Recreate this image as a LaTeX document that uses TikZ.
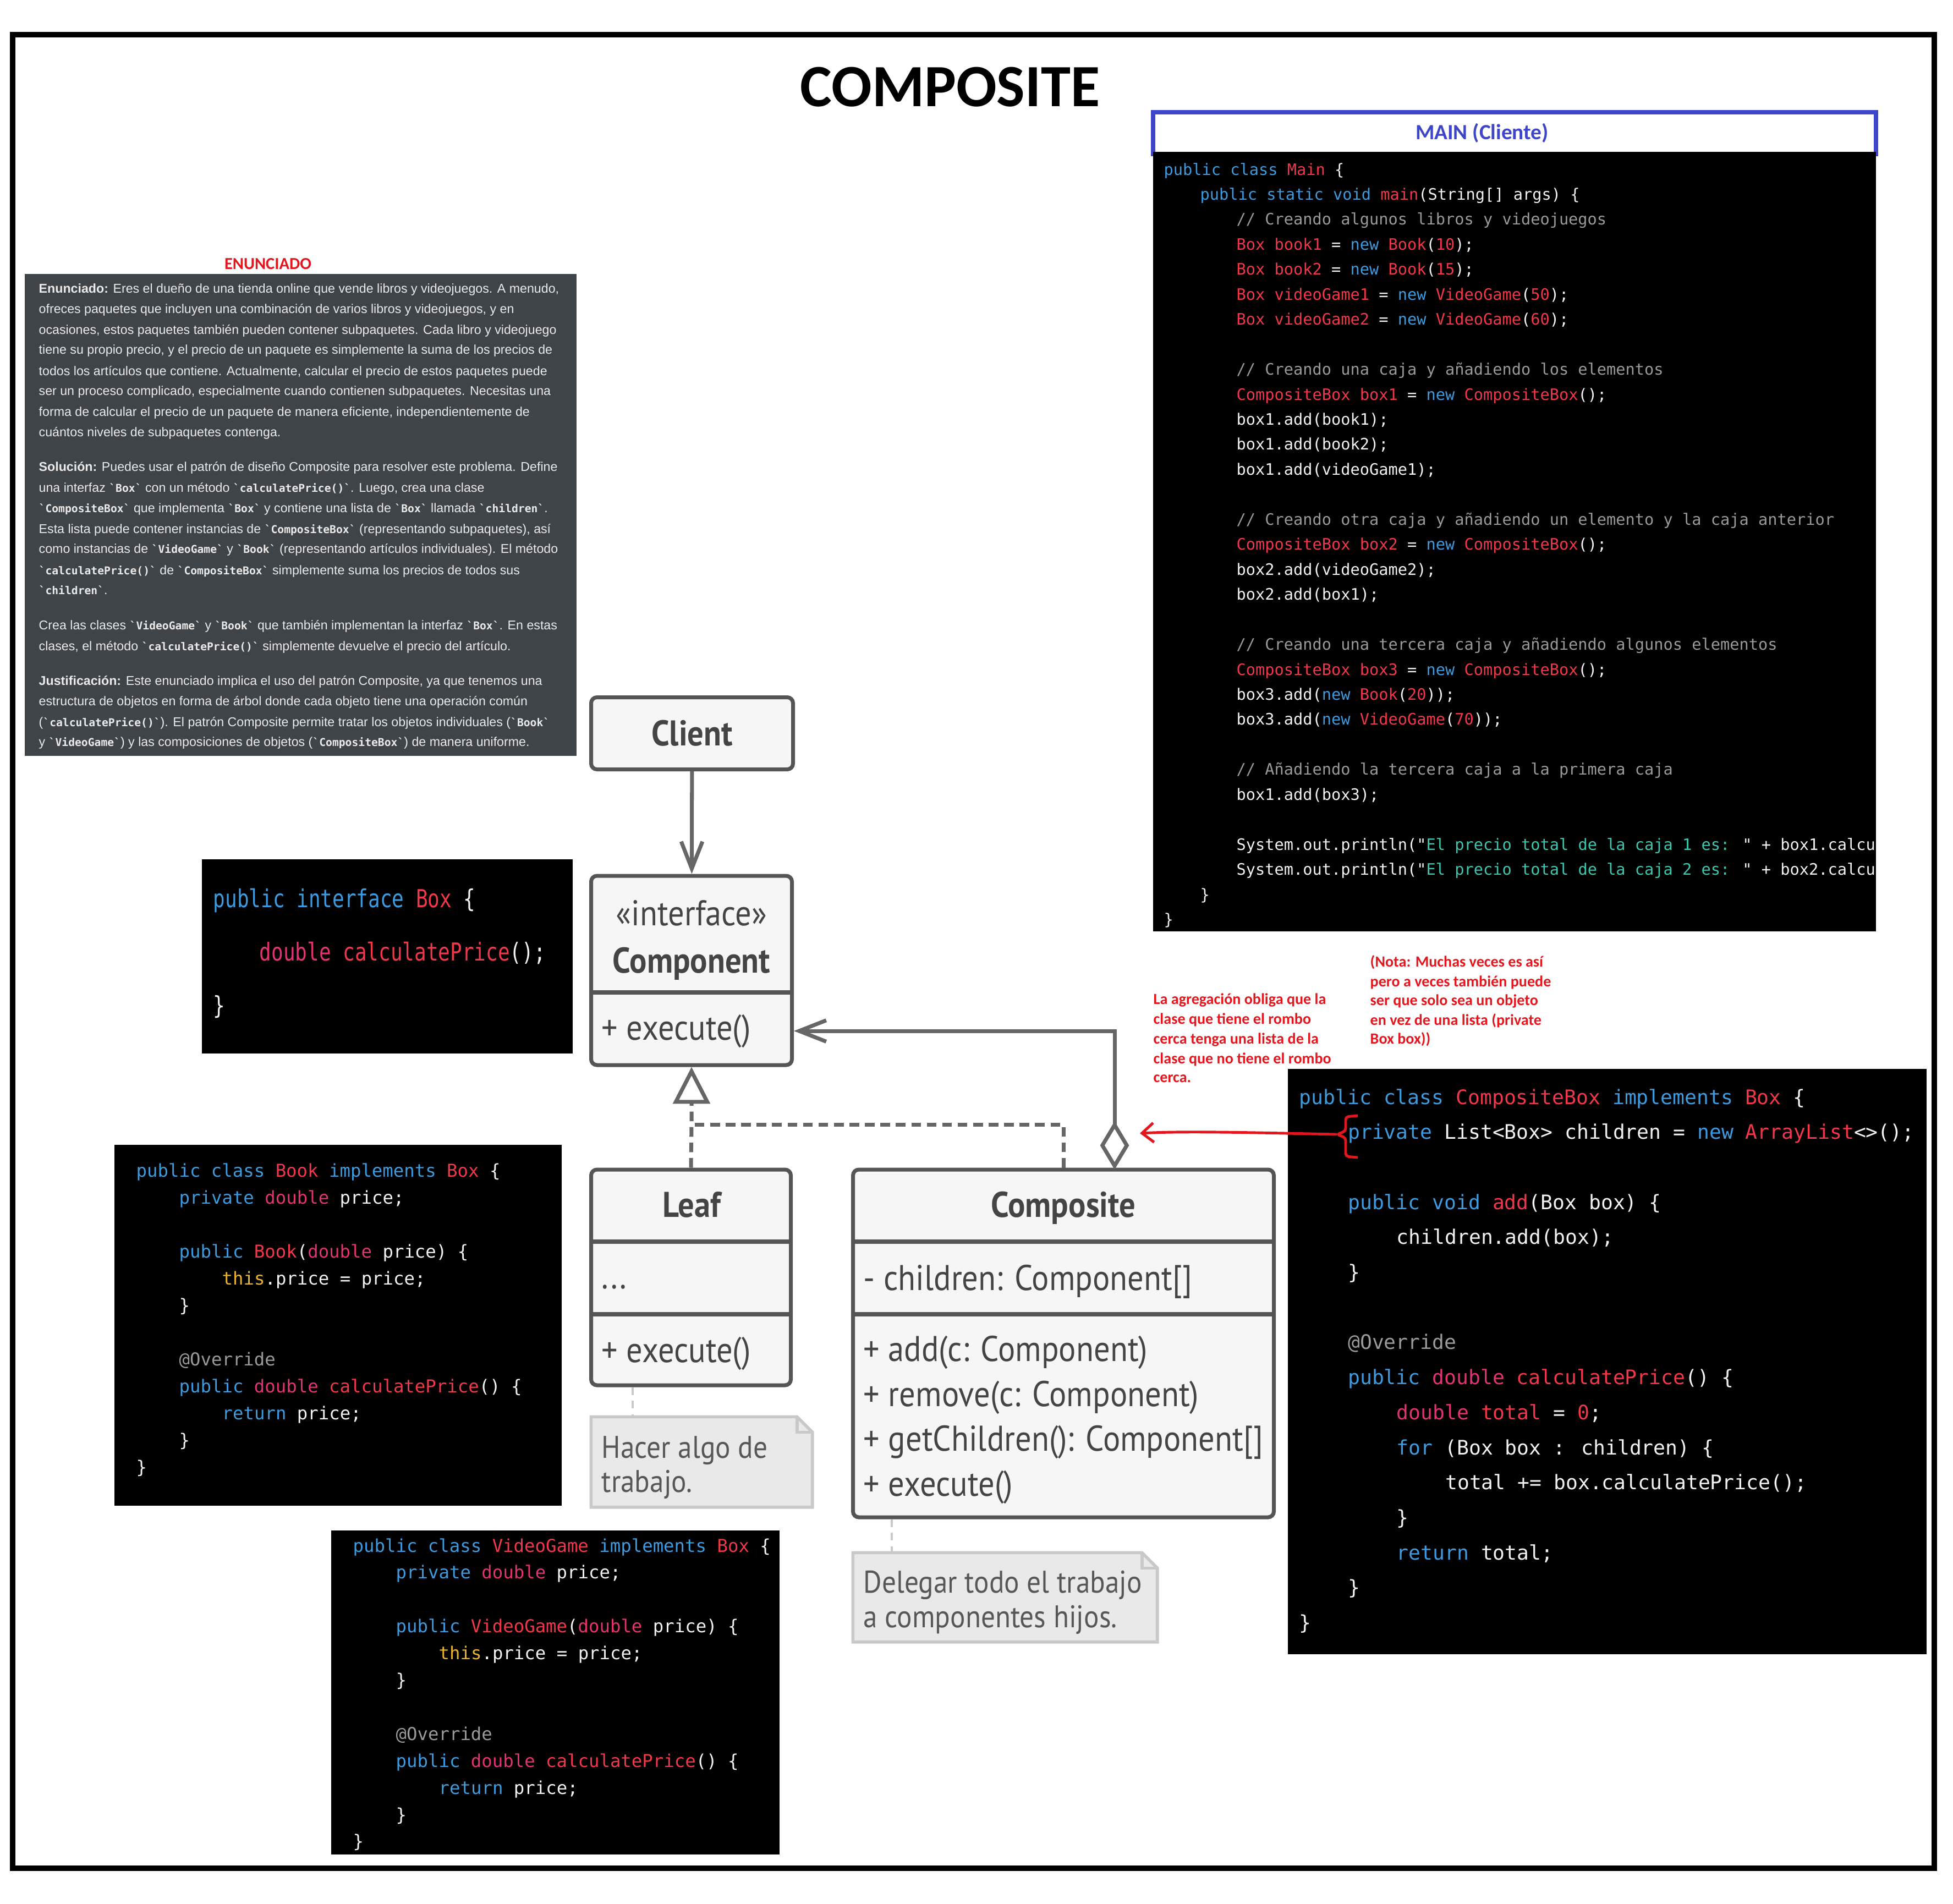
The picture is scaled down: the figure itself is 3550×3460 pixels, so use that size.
\documentclass[tikz,border=0pt]{standalone}
\usepackage{fontspec}
\usetikzlibrary{arrows.meta,positioning,calc}

\newfontfamily\titlefont{Carlito}
\newfontfamily\textofont{Liberation Sans}
\newfontfamily\codefont{DejaVu Sans Mono}
\newfontfamily\condfont[FakeStretch=0.8]{DejaVu Sans Mono}
\newfontfamily\umlfont[FakeStretch=0.9]{PT Sans}

\definecolor{jblue}{HTML}{3D9BE0}
\definecolor{jred}{HTML}{F0384A}
\definecolor{jpink}{HTML}{E23372}
\definecolor{jgrey}{HTML}{9A9A9A}
\definecolor{jteal}{HTML}{3CC8B0}
\definecolor{jyellow}{HTML}{E8B430}
\definecolor{jwhite}{HTML}{F2F2F2}
\definecolor{enunbg}{HTML}{3F4448}
\definecolor{umlline}{HTML}{555555}
\definecolor{umlfill}{HTML}{F6F6F6}
\definecolor{umltext}{HTML}{444444}
\definecolor{notefill}{HTML}{E9E9E9}
\definecolor{noteedge}{HTML}{C9C9C9}
\definecolor{rojo}{HTML}{E3161E}
\definecolor{azul}{HTML}{3F45C8}

\newcommand{\jkw}[1]{\textcolor{jblue}{#1}}
\newcommand{\jty}[1]{\textcolor{jred}{#1}}
\newcommand{\jdb}[1]{\textcolor{jpink}{#1}}
\newcommand{\jcm}[1]{\textcolor{jgrey}{#1}}
\newcommand{\jst}[1]{\textcolor{jteal}{#1}}
\newcommand{\jth}[1]{\textcolor{jyellow}{#1}}
\newcommand{\icod}[1]{{\codefont\bfseries\fontsize{5.6}{6}\selectfont\textasciigrave#1\textasciigrave}}

\begin{document}
\begin{tikzpicture}[x=0.1mm, y=-0.1mm,
    codebg/.style={fill=black, draw=none, inner sep=0pt, outer sep=0pt, anchor=north west},
    mainln/.style={anchor=base west, inner sep=0pt, text=jwhite, font=\codefont\fontsize{8.15}{9}\selectfont},
    bookln/.style={mainln, font=\codefont\fontsize{9.2}{10}\selectfont},
    compln/.style={mainln, font=\codefont\fontsize{10.35}{11}\selectfont},
    ifaceln/.style={mainln, font=\condfont\fontsize{12.8}{13}\selectfont},
    enunln/.style={anchor=base west, inner sep=0pt, text=white!92!black, font=\textofont\fontsize{6.6}{7}\selectfont},
    notarojo/.style={anchor=base west, inner sep=0pt, text=rojo, font=\titlefont\bfseries\fontsize{8}{9}\selectfont},
    umlbox/.style={draw=umlline, fill=umlfill, line width=2pt, rounded corners=3pt, inner sep=0pt},
    umlsep/.style={draw=umlline, line width=2.4pt},
    umltxt/.style={inner sep=0pt, text=umltext, font=\umlfont\fontsize{18.5}{20}\selectfont},
    umltit/.style={inner sep=0pt, text=umltext, font=\umlfont\bfseries\fontsize{18.5}{20}\selectfont},
    notatxt/.style={anchor=base west, inner sep=0pt, text=umltext!90!white, font=\umlfont\fontsize{16.2}{18}\selectfont},
    notabox/.style={inner sep=0pt},
    notaline/.style={draw=noteedge, fill=notefill, line width=1.6pt},
    conector/.style={draw=umlline!90!white, line width=2pt},
    realiz/.style={conector, dash pattern=on 5pt off 3pt},
    ligadura/.style={draw=noteedge, line width=1.4pt, dash pattern=on 4pt off 3pt}]

    \useasboundingbox (0,0) rectangle (3550,3460);

    % 1. Marco y titulo
    \draw[line width=2.6pt] (23,63) rectangle (3516,3396);
    \node[font=\titlefont\bfseries\fontsize{31}{33}\selectfont] (titulo) at (1727,158) {COMPOSITE};

    % 2. Enunciado
    \node[text=rojo, font=\titlefont\bfseries\fontsize{8.7}{9}\selectfont] (enunT) at (487,480) {ENUNCIADO};
    \node[codebg, fill=enunbg, minimum width=100.3mm, minimum height=87.6mm] (enunbg) at (45,498) {};
    \foreach \yy/\linea [count=\i] in {
        525/{\textbf{Enunciado:} Eres el dueño de una tienda online que vende libros y videojuegos. A menudo,},
        562/{ofreces paquetes que incluyen una combinación de varios libros y videojuegos, y en},
        600/{ocasiones, estos paquetes también pueden contener subpaquetes. Cada libro y videojuego},
        636/{tiene su propio precio, y el precio de un paquete es simplemente la suma de los precios de},
        675/{todos los artículos que contiene. Actualmente, calcular el precio de estos paquetes puede},
        711/{ser un proceso complicado, especialmente cuando contienen subpaquetes. Necesitas una},
        749/{forma de calcular el precio de un paquete de manera eficiente, independientemente de},
        786/{cuántos niveles de subpaquetes contenga.},
        849/{\textbf{Solución:} Puedes usar el patrón de diseño Composite para resolver este problema. Define},
        887/{una interfaz \icod{Box} con un método \icod{calculatePrice()}. Luego, crea una clase},
        924/{\icod{CompositeBox} que implementa \icod{Box} y contiene una lista de \icod{Box} llamada \icod{children}.},
        962/{Esta lista puede contener instancias de \icod{CompositeBox} (representando subpaquetes), así},
        998/{como instancias de \icod{VideoGame} y \icod{Book} (representando artículos individuales). El método},
        1037/{\icod{calculatePrice()} de \icod{CompositeBox} simplemente suma los precios de todos sus},
        1073/{\icod{children}.},
        1137/{Crea las clases \icod{VideoGame} y \icod{Book} que también implementan la interfaz \icod{Box}. En estas},
        1175/{clases, el método \icod{calculatePrice()} simplemente devuelve el precio del artículo.},
        1238/{\textbf{Justificación:} Este enunciado implica el uso del patrón Composite, ya que tenemos una},
        1275/{estructura de objetos en forma de árbol donde cada objeto tiene una operación común},
        1313/{(\icod{calculatePrice()}). El patrón Composite permite tratar los objetos individuales (\icod{Book}},
        1349/{y \icod{VideoGame}) y las composiciones de objetos (\icod{CompositeBox}) de manera uniforme.}}
        \node[enunln] (enun\i) at (70,{\yy+7}) {\linea};

    % 3. Main (cliente)
    \node[codebg, fill=white, draw=azul, line width=2.3pt, minimum width=131.4mm, minimum height=7.6mm] (mainT) at (2096,204) {};
    \node[text=azul, font=\titlefont\bfseries\fontsize{11.2}{12}\selectfont] (mainTxt) at (2694,242) {MAIN (Cliente)};
    \node[codebg, minimum width=131.4mm, minimum height=141.7mm] (mainbg) at (2096,276) {};
    \begin{scope}
        \clip (mainbg.north west) rectangle (mainbg.south east);
        \foreach \ind/\linea [count=\i from 0] in {
            0/{\jkw{public class} \jty{Main} \{},
            1/{\jkw{public static void} \jty{main}(String[] args) \{},
            2/{\jcm{// Creando algunos libros y videojuegos}},
            2/{\jty{Box book1} = \jkw{new} \jty{Book}(\jty{10});},
            2/{\jty{Box book2} = \jkw{new} \jty{Book}(\jty{15});},
            2/{\jty{Box videoGame1} = \jkw{new} \jty{VideoGame}(\jty{50});},
            2/{\jty{Box videoGame2} = \jkw{new} \jty{VideoGame}(\jty{60});},
            0/{},
            2/{\jcm{// Creando una caja y añadiendo los elementos}},
            2/{\jty{CompositeBox box1} = \jkw{new} \jty{CompositeBox}();},
            2/{box1.add(book1);},
            2/{box1.add(book2);},
            2/{box1.add(videoGame1);},
            0/{},
            2/{\jcm{// Creando otra caja y añadiendo un elemento y la caja anterior}},
            2/{\jty{CompositeBox box2} = \jkw{new} \jty{CompositeBox}();},
            2/{box2.add(videoGame2);},
            2/{box2.add(box1);},
            0/{},
            2/{\jcm{// Creando una tercera caja y añadiendo algunos elementos}},
            2/{\jty{CompositeBox box3} = \jkw{new} \jty{CompositeBox}();},
            2/{box3.add(\jkw{new} \jty{Book}(\jty{20}));},
            2/{box3.add(\jkw{new} \jty{VideoGame}(\jty{70}));},
            0/{},
            2/{\jcm{// Añadiendo la tercera caja a la primera caja}},
            2/{box1.add(box3);},
            0/{},
            2/{System.out.println("\jst{El precio total de la caja 1 es: }" + box1.calculatePrice());},
            2/{System.out.println("\jst{El precio total de la caja 2 es: }" + box2.calculatePrice());},
            1/{\}},
            0/{\}}}
            \node[mainln] (main\i) at ({2115+\ind*66},{318+\i*45.45}) {\linea};
    \end{scope}

    % 4. Interfaz Box
    \node[codebg, minimum width=67.4mm, minimum height=35.3mm] (ifacebg) at (367,1562) {};
    \node[ifaceln] (iface1) at (387,1649) {\jkw{public interface} \jty{Box} \{};
    \node[ifaceln] (iface2) at (471,1746) {\jdb{double} \jty{calculatePrice}();};
    \node[ifaceln] (iface3) at (387,1843) {\}};

    % 5. Clases Book y VideoGame
    \node[codebg, minimum width=81.3mm, minimum height=65.6mm] (bookbg) at (208,2081) {};
    \foreach \ind/\linea [count=\i from 0] in {
        0/{\jkw{public class} \jty{Book} \jkw{implements} \jty{Box} \{},
        1/{\jkw{private} \jdb{double} price;},
        0/{},
        1/{\jkw{public} \jty{Book}(\jdb{double} price) \{},
        2/{\jth{this}.price = price;},
        1/{\}},
        0/{},
        1/{\jcm{@Override}},
        1/{\jkw{public} \jdb{double} \jty{calculatePrice}() \{},
        2/{\jkw{return} price;},
        1/{\}},
        0/{\}}}
        \node[bookln] (book\i) at ({247+\ind*78},{2139+\i*49}) {\linea};

    \node[codebg, minimum width=81.5mm, minimum height=58.9mm] (videobg) at (602,2782) {};
    \foreach \ind/\linea [count=\i from 0] in {
        0/{\jkw{public class} \jty{VideoGame} \jkw{implements} \jty{Box} \{},
        1/{\jkw{private} \jdb{double} price;},
        0/{},
        1/{\jkw{public} \jty{VideoGame}(\jdb{double} price) \{},
        2/{\jth{this}.price = price;},
        1/{\}},
        0/{},
        1/{\jcm{@Override}},
        1/{\jkw{public} \jdb{double} \jty{calculatePrice}() \{},
        2/{\jkw{return} price;},
        1/{\}},
        0/{\}}}
        \node[bookln] (video\i) at ({641+\ind*78},{2821+\i*48.9}) {\linea};

    % 6. Clase CompositeBox
    \node[codebg, minimum width=116.1mm, minimum height=106.4mm] (compbg) at (2341,1943) {};
    \foreach \ind/\linea [count=\i from 0] in {
        0/{\jkw{public class} \jty{CompositeBox} \jkw{implements} \jty{Box} \{},
        1/{\jkw{private} List<Box> children = \jkw{new} \jty{ArrayList}<>();},
        0/{},
        1/{\jkw{public void} \jty{add}(Box box) \{},
        2/{children.add(box);},
        1/{\}},
        0/{},
        1/{\jcm{@Override}},
        1/{\jkw{public} \jdb{double} \jty{calculatePrice}() \{},
        2/{\jdb{double} \jty{total} = \jty{0};},
        2/{\jkw{for} (Box box : children) \{},
        3/{total += box.calculatePrice();},
        2/{\}},
        2/{\jkw{return} total;},
        1/{\}},
        0/{\}}}
        \node[compln] (cbox\i) at ({2361+\ind*88.5},{2007+\i*63.7}) {\linea};

    % 7. Diagrama UML
    \node[umlbox, umltit, minimum width=36.7mm, minimum height=13.1mm] (client) at (1258,1333) {Client};

    \node[umlbox, minimum width=36.5mm, minimum height=34.4mm] (comp) at (1257,1764) {};
    \draw[umlsep] (comp.west |- 0,1804) -- (comp.east |- 0,1804);
    \node[umltxt, anchor=base] (compS) at (1257,1682) {«interface»};
    \node[umltit, anchor=base] (compN) at (1257,1768) {Component};
    \node[umltxt, anchor=base west] (cexe) at (1093,1890) {+ execute()};

    \node[umlbox, minimum width=36.3mm, minimum height=39.2mm] (leaf) at (1256,2322) {};
    \draw[umlsep] (leaf.west |- 0,2257) -- (leaf.east |- 0,2257);
    \draw[umlsep] (leaf.west |- 0,2389) -- (leaf.east |- 0,2389);
    \node[umltit, anchor=base] (leafN) at (1257,2212) {Leaf};
    \node[umltxt, anchor=base west] (leafA) at (1093,2342) {...};
    \node[umltxt, anchor=base west] (leafM) at (1093,2476) {+ execute()};

    \node[umlbox, minimum width=76.5mm, minimum height=63.2mm] (compo) at (1933,2442) {};
    \draw[umlsep] (compo.west |- 0,2257) -- (compo.east |- 0,2257);
    \draw[umlsep] (compo.west |- 0,2389) -- (compo.east |- 0,2389);
    \node[umltit, anchor=base] (compoN) at (1933,2212) {Composite};
    \node[umltxt, anchor=base west] (compoA) at (1569,2345) {- children: Component[]};
    \node[umltxt, anchor=base west] (compoM1) at (1569,2474) {+ add(c: Component)};
    \node[umltxt, anchor=base west] (compoM2) at (1569,2556) {+ remove(c: Component)};
    \node[umltxt, anchor=base west] (compoM3) at (1569,2637) {+ getChildren(): Component[]};
    \node[umltxt, anchor=base west] (compoM4) at (1569,2719) {+ execute()};

    % Notas
    \node[notabox, minimum width=40.1mm, minimum height=16.3mm] (nota1) at (1275.5,2657.5) {};
    \draw[notaline] (nota1.north west) -- ($(nota1.north east)+(-28,0)$) -- ($(nota1.north east)+(0,28)$) -- (nota1.south east) -- (nota1.south west) -- cycle;
    \draw[notaline, fill=none] ($(nota1.north east)+(-28,0)$) -- ++(0,28) -- ++(28,0);
    \node[notatxt] (nota1a) at (1093,2650) {Hacer algo de};
    \node[notatxt] (nota1b) at (1093,2712) {trabajo.};

    \node[notabox, minimum width=55.2mm, minimum height=16.1mm] (nota2) at (1827,2903.5) {};
    \draw[notaline] (nota2.north west) -- ($(nota2.north east)+(-28,0)$) -- ($(nota2.north east)+(0,28)$) -- (nota2.south east) -- (nota2.south west) -- cycle;
    \draw[notaline, fill=none] ($(nota2.north east)+(-28,0)$) -- ++(0,28) -- ++(28,0);
    \node[notatxt] (nota2a) at (1569,2895) {Delegar todo el trabajo};
    \node[notatxt] (nota2b) at (1569,2958) {a componentes hijos.};

    \draw[ligadura] (leaf.south -| 1150,0) -- (nota1.north -| 1150,0);
    \draw[ligadura] (compo.south -| 1621,0) -- (nota2.north -| 1621,0);

    % Conectores
    \draw[conector, -{Straight Barb[length=14pt, width=11pt]}] (client) -- (comp);

    \coordinate (junta) at (1257,2044);
    \coordinate (basetri) at (1257,2004);
    \draw[realiz] (leaf.north) -- (junta) -- (basetri);
    \draw[realiz] (compo.north) |- (junta);
    \draw[conector, -{Triangle[fill=white, length=19pt, width=19pt]}] (basetri) -- (comp.south);

    \coordinate (rombo) at (2026,2126);
    \draw[conector, {Diamond[fill=white, length=25pt, width=15pt]}-{Straight Barb[length=14pt, width=11pt]}] (rombo) |- (comp.east |- cexe);

    % 8. Notas en rojo
    \foreach \yy/\linea [count=\i] in {1816/{La agregación obliga que la}, 1852/{clase que tiene el rombo},
        1888/{cerca tenga una lista de la}, 1924/{clase que no tiene el rombo}, 1958/{cerca.}}
        \node[notarojo] (agreg\i) at (2096,{\yy+9}) {\linea};
    \foreach \yy/\linea [count=\i] in {1748/{(Nota: Muchas veces es así}, 1784/{pero a veces también puede},
        1818/{ser que solo sea un objeto}, 1854/{en vez de una lista (private}, 1888/{Box box))}}
        \node[notarojo] (nota\i r) at (2490,{\yy+9}) {\linea};

    \coordinate (llave) at (2430,2062);
    \coordinate (puntaroja) at (2072,2060);
    \draw[rojo, line width=1.4pt, rounded corners=1.5pt] (2468,2028) -- (2446,2030) -- (2446,2056) -- (llave) -- (2446,2068) -- (2446,2102) -- (2468,2104);
    \draw[rojo, line width=1.4pt, -{Straight Barb[length=6pt, width=10pt]}] (llave) .. controls (2250,2058) and (2150,2056) .. (puntaroja);

\end{tikzpicture}
\end{document}
